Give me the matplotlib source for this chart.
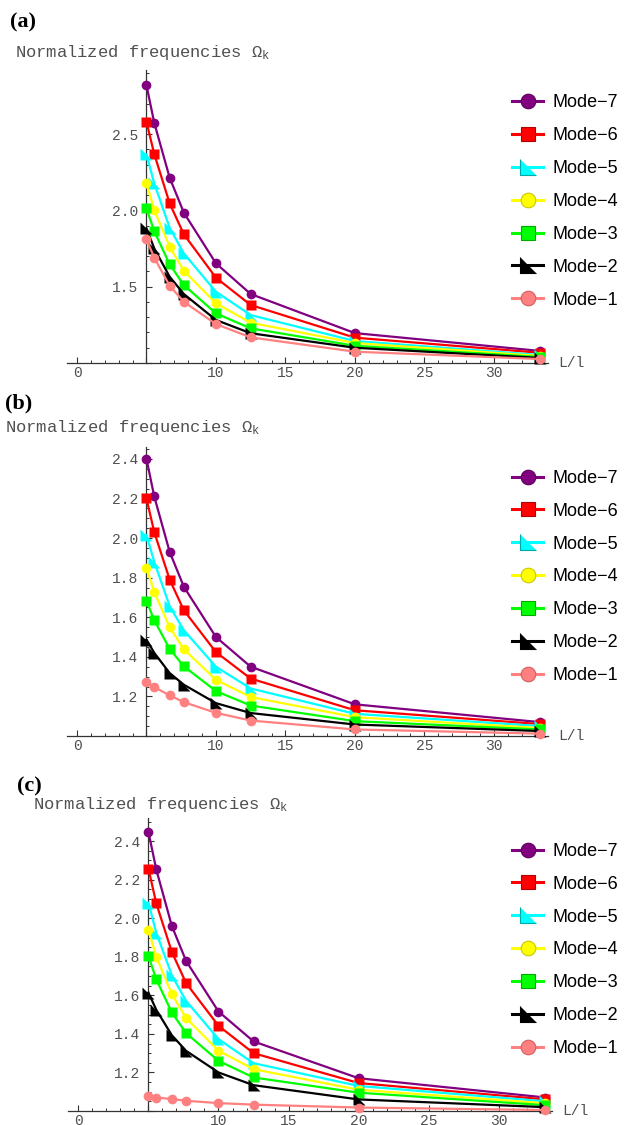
import numpy as np
import matplotlib.pyplot as plt
from matplotlib.lines import Line2D
from matplotlib.ticker import MultipleLocator, FuncFormatter

plt.rcParams['font.family'] = ['Liberation Mono', 'DejaVu Sans']
plt.rcParams['mathtext.fontset'] = 'custom'
plt.rcParams['mathtext.rm'] = 'Liberation Mono'
plt.rcParams['mathtext.it'] = 'Liberation Mono'

# L/l values (same for all panels)
L_l = [5.0, 5.56, 6.67, 7.69, 10.0, 12.5, 20.0, 33.33]
mode_names = ['Mode\u22127', 'Mode\u22126', 'Mode\u22125', 'Mode\u22124',
              'Mode\u22123', 'Mode\u22122', 'Mode\u22121']

# panel (a)
a_m7 = [2.82, 2.574, 2.214, 1.985, 1.653, 1.452, 1.196, 1.079]
a_m6 = [2.58, 2.369, 2.046, 1.843, 1.559, 1.380, 1.166, 1.067]
a_m5 = [2.367, 2.177, 1.886, 1.718, 1.467, 1.314, 1.144, 1.052]
a_m4 = [2.177, 2.002, 1.762, 1.604, 1.391, 1.264, 1.131, 1.046]
a_m3 = [2.013, 1.864, 1.646, 1.511, 1.325, 1.227, 1.113, 1.039]
a_m2 = [1.882, 1.751, 1.565, 1.452, 1.282, 1.195, 1.100, 1.033]
a_m1 = [1.810, 1.690, 1.506, 1.401, 1.255, 1.168, 1.074, 1.026]

# panel (b)
b_m7 = [2.40, 2.21, 1.93, 1.754, 1.50, 1.35, 1.16, 1.07]
b_m6 = [2.20, 2.03, 1.79, 1.635, 1.424, 1.29, 1.13, 1.06]
b_m5 = [2.015, 1.88, 1.656, 1.534, 1.35, 1.24, 1.112, 1.05]
b_m4 = [1.85, 1.728, 1.55, 1.438, 1.284, 1.197, 1.095, 1.04]
b_m3 = [1.683, 1.585, 1.44, 1.352, 1.227, 1.154, 1.075, 1.033]
b_m2 = [1.487, 1.42, 1.318, 1.259, 1.166, 1.116, 1.058, 1.025]
b_m1 = [1.273, 1.247, 1.205, 1.171, 1.117, 1.078, 1.033, 1.012]

# panel (c)
c_m7 = [2.448, 2.253, 1.96, 1.778, 1.516, 1.361, 1.17, 1.07]
c_m6 = [2.257, 2.077, 1.825, 1.663, 1.442, 1.30, 1.145, 1.06]
c_m5 = [2.08, 1.925, 1.704, 1.571, 1.373, 1.248, 1.13, 1.05]
c_m4 = [1.939, 1.80, 1.606, 1.482, 1.313, 1.217, 1.11, 1.04]
c_m3 = [1.804, 1.683, 1.511, 1.404, 1.26, 1.174, 1.095, 1.03]
c_m2 = [1.614, 1.525, 1.393, 1.312, 1.20, 1.134, 1.06, 1.02]
c_m1 = [1.076, 1.07, 1.062, 1.053, 1.041, 1.033, 1.018, 1.005]

tri = [(-1, 1), (-1, -1), (1, -1)]
colors = ['#800080', '#ff0000', '#00ffff', '#ffff00', '#00ff00', '#000000', '#ff8080']
edges = ['#5a005a', '#b00000', '#00a8a8', '#c8c800', '#00a800', '#000000', '#d06060']
markers = ['o', 's', tri, 'o', 's', tri, 'o']
msizes = [7, 7.5, 8, 7, 7.5, 8, 7]
leg_sizes = [10.5, 10.5, 11, 10.5, 10.5, 11, 10.5]
title = r'Normalized frequencies $\Omega_{\rm k}$'
axis_col = '#333333'
text_col = '#505050'


def draw_panel(fig, rect, ys, ylim, ymaj, ymin, xlim):
    ax = fig.add_axes(rect)
    for i in range(7):
        ax.plot(L_l, ys[i], color=colors[i], lw=1.6, marker=markers[i],
                ms=msizes[i], mec='none', clip_on=False, zorder=3 + i)
    ax.set_xlim(xlim)
    ax.set_ylim(ylim)
    ax.spines['left'].set_position(('data', 5))
    ax.spines['top'].set_visible(False)
    ax.spines['right'].set_visible(False)
    for s in ['left', 'bottom']:
        ax.spines[s].set_color(axis_col)
        ax.spines[s].set_linewidth(0.9)
    ax.xaxis.set_major_locator(MultipleLocator(5))
    ax.xaxis.set_minor_locator(MultipleLocator(1))
    ax.yaxis.set_major_locator(MultipleLocator(ymaj))
    ax.yaxis.set_minor_locator(MultipleLocator(ymin))
    ax.xaxis.set_major_formatter(FuncFormatter(lambda v, p: '' if abs(v - 5) < 1e-6 else '%d' % v))
    ax.yaxis.set_major_formatter(FuncFormatter(lambda v, p: '' if v < 1.01 else '%.1f' % v))
    ax.tick_params(which='both', direction='in', colors=axis_col, labelcolor=text_col,
                   labelsize=10.5)
    ax.tick_params(which='major', length=4.5, width=0.8)
    ax.tick_params(which='minor', length=2.5, width=0.7)
    ax.tick_params(axis='x', pad=2)
    ax.tick_params(axis='y', pad=6)
    ax.text(1.022, 0, 'L/l', transform=ax.transAxes, va='center', ha='left',
            fontsize=10.5, color=text_col)
    return ax


fig = plt.figure(figsize=(6.24, 11.25), dpi=100)
W, H = 624.0, 1125.0

panel_a = [a_m7, a_m6, a_m5, a_m4, a_m3, a_m2, a_m1]
panel_b = [b_m7, b_m6, b_m5, b_m4, b_m3, b_m2, b_m1]
panel_c = [c_m7, c_m6, c_m5, c_m4, c_m3, c_m2, c_m1]

draw_panel(fig, [67 / W, 1 - 363 / H, 481 / W, 293 / H], panel_a, (1.0, 2.92), 0.5, 0.1, (-0.72, 33.9))
draw_panel(fig, [67 / W, 1 - 736 / H, 481 / W, 289 / H], panel_b, (1.0, 2.46), 0.2, 0.05, (-0.72, 33.9))
draw_panel(fig, [68 / W, 1 - 1111 / H, 484 / W, 293 / H], panel_c, (1.0, 2.52), 0.2, 0.05, (-0.74, 33.8))

# panel labels and titles
for lab, lx, ly, tx, ty in [('(a)', 10, 22, 15, 52), ('(b)', 5, 403, 5, 428), ('(c)', 17, 786, 33, 805)]:
    fig.text(lx / W, 1 - ly / H, lab, fontfamily='Liberation Serif', fontweight='bold',
             fontsize=16, va='center', ha='left')
    fig.text(tx / W, 1 - ty / H, title, fontsize=12.3, color=text_col, va='center', ha='left')

# legends
handles = []
for i in range(7):
    handles.append(Line2D([], [], color=colors[i], lw=2.2, marker=markers[i],
                          ms=leg_sizes[i], mfc=colors[i], mec=edges[i], mew=0.8))
for ly in [201.5, 577, 950]:
    fig.legend(handles, mode_names, loc='center left', bbox_to_anchor=(512 / W, 1 - ly / H),
               frameon=False, borderpad=0, borderaxespad=0, handlelength=1.72,
               handletextpad=0.55, labelspacing=0.88,
               prop={'family': 'Liberation Sans', 'size': 13})

plt.savefig('out.png', dpi=100)
